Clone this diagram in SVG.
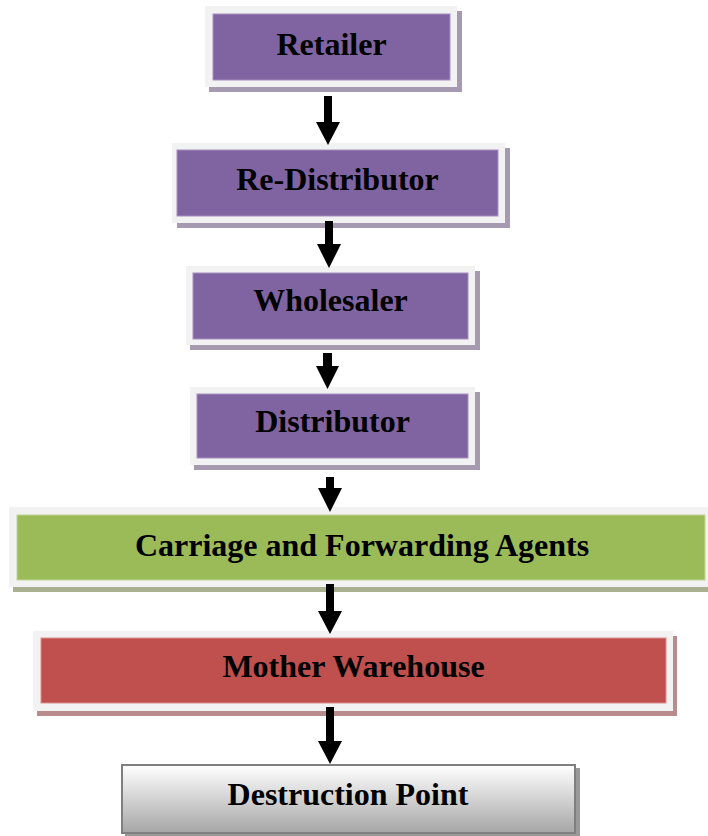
<svg xmlns="http://www.w3.org/2000/svg" width="708" height="836" viewBox="0 0 708 836">
  <style>
    .frame { fill: #f2f2f2; }
    .purple { fill: #8064a2; stroke: #a58fc0; stroke-width: 1; }
    .green { fill: #9bbb59; stroke: #c0d69a; stroke-width: 1; }
    .red { fill: #c0504d; stroke: #dc8e8c; stroke-width: 1; }
    .sh-purple { fill: #a59aaf; }
    .sh-green { fill: #a8b08f; }
    .sh-red { fill: #b88c8c; }
    .sh-gray { fill: #9a9a9a; }
    .label { font-family: "Liberation Serif", "Times New Roman", serif; font-weight: bold; font-size: 32px; fill: #000; text-anchor: middle; }
    .arrow { fill: #000; }
  </style>
  <defs>
    <linearGradient id="grayGrad" x1="0" y1="0" x2="0" y2="1">
      <stop offset="0" stop-color="#ffffff"/>
      <stop offset="1" stop-color="#a6a6a6"/>
    </linearGradient>
  </defs>

  <rect width="708" height="836" fill="#ffffff"/>

  <g id="retailer">
    <rect class="sh-purple" x="209" y="11" width="253" height="81"/>
    <rect class="frame" x="205" y="6" width="252" height="81"/>
    <rect class="purple" x="213" y="14" width="237" height="66"/>
    <text class="label" x="331.5" y="55">Retailer</text>
  </g>

  <g id="re-distributor">
    <rect class="sh-purple" x="177" y="148" width="333" height="80"/>
    <rect class="frame" x="172" y="143" width="333" height="80"/>
    <rect class="purple" x="177" y="150" width="321" height="66"/>
    <text class="label" x="337.5" y="190">Re-Distributor</text>
  </g>

  <g id="wholesaler">
    <rect class="sh-purple" x="190" y="271" width="290" height="79"/>
    <rect class="frame" x="186" y="266" width="289" height="79"/>
    <rect class="purple" x="193" y="273" width="275" height="66"/>
    <text class="label" x="330.5" y="311">Wholesaler</text>
  </g>

  <g id="distributor">
    <rect class="sh-purple" x="194" y="392" width="286" height="78"/>
    <rect class="frame" x="190" y="387" width="285" height="78"/>
    <rect class="purple" x="197" y="394" width="271" height="64"/>
    <text class="label" x="332.5" y="432">Distributor</text>
  </g>

  <g id="carriage-forwarding">
    <rect class="sh-green" x="13" y="512" width="695" height="80"/>
    <rect class="frame" x="9" y="507" width="699" height="80"/>
    <rect class="green" x="17" y="515" width="688" height="65"/>
    <text class="label" x="362" y="556">Carriage and Forwarding Agents</text>
  </g>

  <g id="mother-warehouse">
    <rect class="sh-red" x="37" y="636" width="640" height="80"/>
    <rect class="frame" x="33" y="631" width="640" height="80"/>
    <rect class="red" x="41" y="638" width="625" height="65"/>
    <text class="label" x="353.5" y="677">Mother Warehouse</text>
  </g>

  <g id="destruction-point">
    <rect class="sh-gray" x="125" y="768" width="455" height="68"/>
    <rect x="122" y="765" width="453" height="68" fill="url(#grayGrad)" stroke="#7f7f7f" stroke-width="2"/>
    <text class="label" x="348" y="805">Destruction Point</text>
  </g>

  <g id="connectors">
    <polygon class="arrow" points="324,96 332,96 332,122 340,122 328,145 316,122 324,122"/>
    <polygon class="arrow" points="325,221 333,221 333,244 341,244 329,268 317,244 325,244"/>
    <polygon class="arrow" points="323,353 332,353 332,366 339,366 327.5,389 316,366 323,366"/>
    <polygon class="arrow" points="326,477 334,477 334,488 342,488 330,512 318,488 326,488"/>
    <polygon class="arrow" points="326,584 334,584 334,611 342,611 330,634 318,611 326,611"/>
    <polygon class="arrow" points="326,707 334,707 334,741 342,741 330,764 318,741 326,741"/>
  </g>
</svg>
